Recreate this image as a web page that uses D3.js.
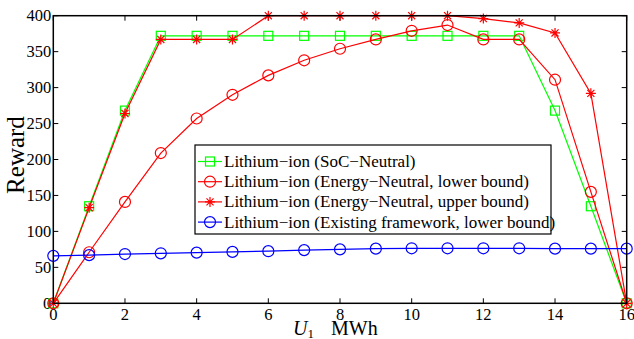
<!DOCTYPE html>
<html>
<head>
<meta charset="utf-8">
<script src="https://cdn.jsdelivr.net/npm/d3@7"></script>
<style>
  body { margin: 0; background: #fff; }
  #chart { width: 634px; height: 339px; }
</style>
</head>
<body>
<div id="chart"></div>
<script>
// Data
const capacity = d3.range(0, 17);
const socNeutral = [0, 135, 268, 372, 372, 372, 372, 372, 372, 372, 372, 372, 372, 372, 268, 135, 0];
const energyLower = [0, 71, 141, 209, 257, 290, 317, 338, 354, 367, 379, 387, 367, 367, 311, 155, 0];
const energyUpper = [0, 133, 264, 367, 367, 367, 400, 400, 400, 400, 400, 400, 396, 390, 376, 292, 0];
const existingLower = [66, 67, 68.5, 69.5, 70.5, 71.5, 72.5, 74, 75, 76, 76.5, 76.5, 76.5, 76.5, 76, 76, 76];
const xTicks = d3.range(0, 17, 2);
const yTicks = d3.range(0, 401, 50);

const series = [
    { name: "Lithium\u2212ion (SoC\u2212Neutral)", values: socNeutral, color: "#00ff00", marker: "square" },
    { name: "Lithium\u2212ion (Energy\u2212Neutral, lower bound)", values: energyLower, color: "#ff0000", marker: "circle" },
    { name: "Lithium\u2212ion (Energy\u2212Neutral, upper bound)", values: energyUpper, color: "#ff0000", marker: "star" },
    { name: "Lithium\u2212ion (Existing framework, lower bound)", values: existingLower, color: "#0000ff", marker: "circle" }
];

const serif = "'Liberation Serif', 'Times New Roman', 'DejaVu Serif', serif";
const width = 634, height = 339;
const margin = { top: 15.7, right: 7.3, bottom: 35.7, left: 53.3 };

const x = d3.scaleLinear().domain([0, 16]).range([margin.left, width - margin.right]);
const y = d3.scaleLinear().domain([0, 400]).range([height - margin.bottom, margin.top]);

const svg = d3.select("#chart").append("svg")
    .attr("width", width)
    .attr("height", height)
    .attr("font-family", serif);

// Draw a marker of the given type at the origin of a group
function drawMarker(g, type, color) {
    if (type === "square") {
        g.append("rect").attr("x", -4.5).attr("y", -4.5).attr("width", 9).attr("height", 9)
            .attr("fill", "none").attr("stroke", color).attr("stroke-width", 1.2);
    } else if (type === "circle") {
        g.append("circle").attr("r", 5.5)
            .attr("fill", "none").attr("stroke", color).attr("stroke-width", 1.2);
    } else {
        const r = 5;
        const d = r * 0.7071;
        g.append("path")
            .attr("d", `M0,${-r}L0,${r}M${-r},0L${r},0M${-d},${-d}L${d},${d}M${-d},${d}L${d},${-d}`)
            .attr("stroke", color).attr("stroke-width", 1.2).attr("fill", "none");
    }
}

// Ticks (inside, on all four sides)
const tickLen = 5;
const ticks = svg.append("g").attr("stroke", "#000").attr("stroke-width", 1);
xTicks.forEach(t => {
    ticks.append("line").attr("x1", x(t)).attr("x2", x(t)).attr("y1", y(0)).attr("y2", y(0) - tickLen);
    ticks.append("line").attr("x1", x(t)).attr("x2", x(t)).attr("y1", y(400)).attr("y2", y(400) + tickLen);
});
yTicks.forEach(t => {
    ticks.append("line").attr("x1", x(0)).attr("x2", x(0) + tickLen).attr("y1", y(t)).attr("y2", y(t));
    ticks.append("line").attr("x1", x(16)).attr("x2", x(16) - tickLen).attr("y1", y(t)).attr("y2", y(t));
});

// Tick labels
svg.append("g").selectAll("text").data(xTicks).join("text")
    .attr("x", d => x(d)).attr("y", y(0) + 17)
    .attr("text-anchor", "middle").style("font-size", "16.5px").text(d => d);
svg.append("g").selectAll("text").data(yTicks).join("text")
    .attr("x", x(0) - 2).attr("y", d => y(d) + 5.5)
    .attr("text-anchor", "end").style("font-size", "16.5px").text(d => d);

// Series lines and markers
const line = d3.line().x((d, i) => x(capacity[i])).y(d => y(d));
series.forEach(s => {
    svg.append("path").datum(s.values)
        .attr("d", line).attr("fill", "none").attr("stroke", s.color).attr("stroke-width", 1.2);
    svg.append("g").selectAll("g").data(s.values).join("g")
        .attr("transform", (d, i) => `translate(${x(capacity[i])},${y(d)})`)
        .each(function() { drawMarker(d3.select(this), s.marker, s.color); });
});

// Axes box
svg.append("rect")
    .attr("x", x(0)).attr("y", y(400))
    .attr("width", x(16) - x(0)).attr("height", y(0) - y(400))
    .attr("fill", "none").attr("stroke", "#000").attr("stroke-width", 1.5);

// Axis labels
svg.append("text")
    .attr("transform", `translate(24,155) rotate(-90)`)
    .attr("text-anchor", "middle").style("font-size", "25px").text("Reward");
const xl = svg.append("text")
    .attr("x", 293).attr("y", 335)
    .style("font-size", "20px");
xl.append("tspan").style("font-style", "italic").text("U");
xl.append("tspan").attr("dy", 3).style("font-size", "13px").text("1");
xl.append("tspan").attr("dy", -3).attr("x", 331).text("MWh");

// Legend
const legend = svg.append("g").attr("transform", "translate(195,145)");
legend.append("rect").attr("width", 356).attr("height", 89)
    .attr("fill", "#fff").attr("stroke", "#000").attr("stroke-width", 1.2);
series.forEach((s, i) => {
    const ly = 16.5 + i * 20.2;
    legend.append("line").attr("x1", 3).attr("x2", 27).attr("y1", ly).attr("y2", ly)
        .attr("stroke", s.color).attr("stroke-width", 1.2);
    drawMarker(legend.append("g").attr("transform", `translate(15,${ly})`), s.marker, s.color);
    legend.append("text").attr("x", 29).attr("y", ly + 5.5)
        .style("font-size", "17px").text(s.name);
});
</script>
</body>
</html>
